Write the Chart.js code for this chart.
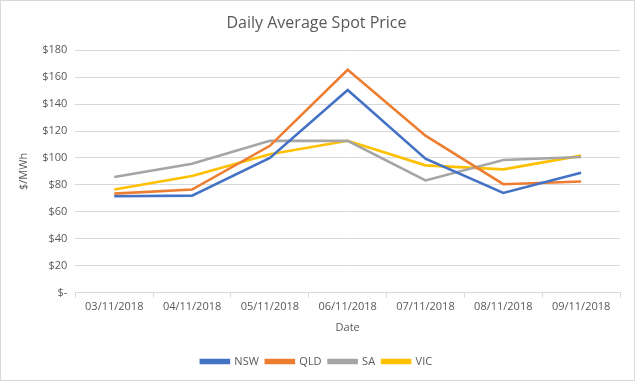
<!DOCTYPE html>
<html><head><meta charset="utf-8">
<script src="https://cdn.jsdelivr.net/npm/chart.js@4"></script>
<style>
html,body{margin:0;padding:0;background:#fff;}
#wrap{position:absolute;left:0;top:0;width:633px;height:379px;border:1px solid #d9d9d9;}
</style></head><body>
<div id="wrap"><canvas id="c" width="633" height="379"></canvas></div>
<script>
const categories = ["03/11/2018","04/11/2018","05/11/2018","06/11/2018","07/11/2018","08/11/2018","09/11/2018"];
const nsw = [71.5, 72, 100, 150.5, 99.5, 74, 89];
const qld = [73.5, 76.5, 109, 165.5, 116.5, 80.5, 82.5];
const sa  = [85.8, 95.7, 112.7, 112.7, 83.3, 98.5, 100.7];
const vic = [76.6, 86.6, 102.7, 112.7, 94.5, 91.5, 101.7];
const yTicks = [0,20,40,60,80,100,120,140,160,180];

const font = {family:"'Open Sans', 'Liberation Sans', sans-serif", size:11};
function ds(label, data, color){
  return {label, data, borderColor:color, backgroundColor:color, borderWidth:2.6, pointRadius:0, tension:0, fill:false};
}
new Chart(document.getElementById('c'), {
  type:'line',
  data:{labels:categories, datasets:[
    ds('NSW', nsw, '#4472c4'),
    ds('QLD', qld, '#ed7d31'),
    ds('SA', sa, '#a5a5a5'),
    ds('VIC', vic, '#ffc000')
  ]},
  options:{
    responsive:false, animation:false,
    layout:{padding:{left:12,right:14,top:8,bottom:3}},
    plugins:{
      title:{display:true, text:'Daily Average Spot Price', color:'#595959', font:{family:font.family,size:16,weight:'normal'}, padding:{top:5,bottom:17}},
      legend:{position:'bottom', labels:{color:'#595959', font:font, boxWidth:28, boxHeight:3, padding:7}},
      tooltip:{enabled:false}
    },
    scales:{
      x:{
        offset:true,
        title:{display:true, text:'Date', color:'#595959', font:font, padding:{top:4,bottom:15}},
        ticks:{color:'#595959', font:font, maxRotation:0, autoSkip:false},
        grid:{offset:true, drawOnChartArea:false, tickLength:5, color:'#d9d9d9'},
        border:{color:'#d9d9d9'}
      },
      y:{
        min:0, max:180,
        afterBuildTicks: s => { s.ticks = yTicks.map(v=>({value:v})); },
        title:{display:true, text:'$/MWh', color:'#595959', font:font, padding:{bottom:4}},
        ticks:{color:'#595959', font:font, padding:8, callback:v => v===0 ? '$-' : '$'+v},
        grid:{color:'#d9d9d9', drawTicks:false},
        border:{display:false}
      }
    }
  }
});
</script></body></html>
